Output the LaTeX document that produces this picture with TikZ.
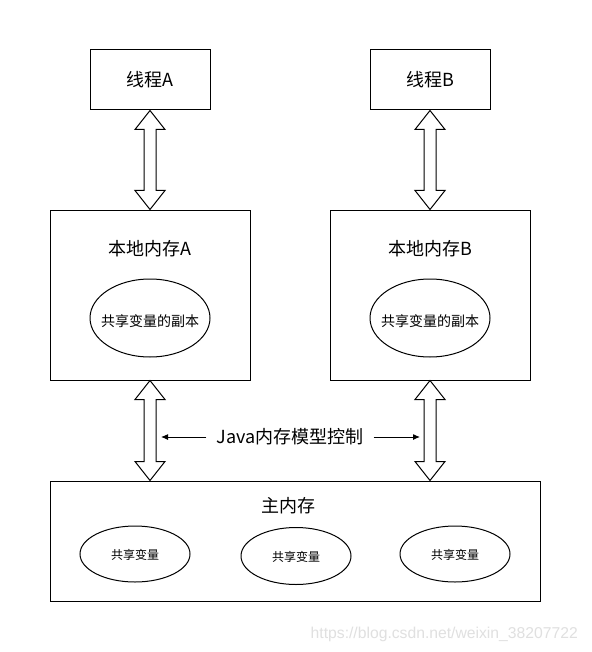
\documentclass[tikz,border=0pt]{standalone}
\usepackage{fontspec}
\setmainfont{Noto Sans CJK SC}
\newfontfamily\wmfont{Liberation Sans}
\usetikzlibrary{shapes.geometric,arrows.meta,calc}
\tikzset{
  box/.style={draw=black,line width=1pt,fill=white,inner sep=0pt},
  oval/.style={draw=black,line width=1pt,ellipse,inner sep=0pt},
  big/.style={font=\fontsize{18}{20}\selectfont},
  mid/.style={font=\fontsize{14}{16}\selectfont},
  small/.style={font=\fontsize{12}{14}\selectfont},
  blk/.style={draw=black,line width=1pt,fill=white,line join=miter},
  thin/.style={draw=black,line width=1pt,-{Latex[length=7pt,width=6pt]}},
}
\newcommand\blkarrow[2]{%
  \draw[blk] let \p1=(#1), \p2=(#2) in
    (\x1,\y1) -- (\x1+15pt,\y1-19pt) -- (\x1+6pt,\y1-19pt) -- (\x1+6pt,\y2+19pt)
    -- (\x1+15pt,\y2+19pt) -- (\x1,\y2) -- (\x1-15pt,\y2+19pt) -- (\x1-6pt,\y2+19pt)
    -- (\x1-6pt,\y1-19pt) -- (\x1-15pt,\y1-19pt) -- cycle;}
\begin{document}
\begin{tikzpicture}[x=1pt,y=-1pt]
\useasboundingbox[fill=white] (0,0) rectangle (591,652);
% threads
\node[box,big,minimum width=120pt,minimum height=60pt] (ta) at (150,80) {线程A};
\node[box,big,minimum width=120pt,minimum height=60pt] (tb) at (430,80) {线程B};
% local memories
\node[box,minimum width=200pt,minimum height=170pt] (la) at (150,295) {};
\node[box,minimum width=200pt,minimum height=170pt] (lb) at (430,295) {};
\node[big] (lat) at (150,249) {本地内存A};
\node[big] (lbt) at (430,249) {本地内存B};
\node[oval,minimum width=120pt,minimum height=78pt] (ea) at (150,318) {};
\node[oval,minimum width=120pt,minimum height=78pt] (eb) at (430,318) {};
\node[mid] (eat) at (150,321) {共享变量的副本};
\node[mid] (ebt) at (430,321) {共享变量的副本};
% main memory
\node[box,minimum width=490pt,minimum height=120pt] (mm) at (295,541) {};
\node[big] (mmt) at (288,506) {主内存};
\node[oval,minimum width=110pt,minimum height=56pt] (v1) at (135,554) {};
\node[oval,minimum width=110pt,minimum height=57pt] (v2) at (296,556) {};
\node[oval,minimum width=110pt,minimum height=56pt] (v3) at (455,554) {};
\node[small] (v1t) at (135,555) {共享变量};
\node[small] (v2t) at (296,557) {共享变量};
\node[small] (v3t) at (455,555) {共享变量};
% block arrows
\blkarrow{ta.south}{la.north}
\blkarrow{tb.south}{lb.north}
\blkarrow{la.south}{la.south |- mm.north}
\blkarrow{lb.south}{lb.south |- mm.north}
% JMM control label
\node[big,inner xsep=10pt,inner ysep=0pt] (jmm) at (290,437) {Java内存模型控制};
\coordinate (jl) at (161,437);
\coordinate (jr) at (420,437);
\draw[thin] (jmm.west) -- (jl);
\draw[thin] (jmm.east) -- (jr);
% watermark
\node[font=\wmfont\fontsize{15.7}{17}\selectfont,text=black!12,anchor=east,inner sep=0pt] (wm) at (578,634) {https://blog.csdn.net/weixin\_38207722};
\end{tikzpicture}
\end{document}
